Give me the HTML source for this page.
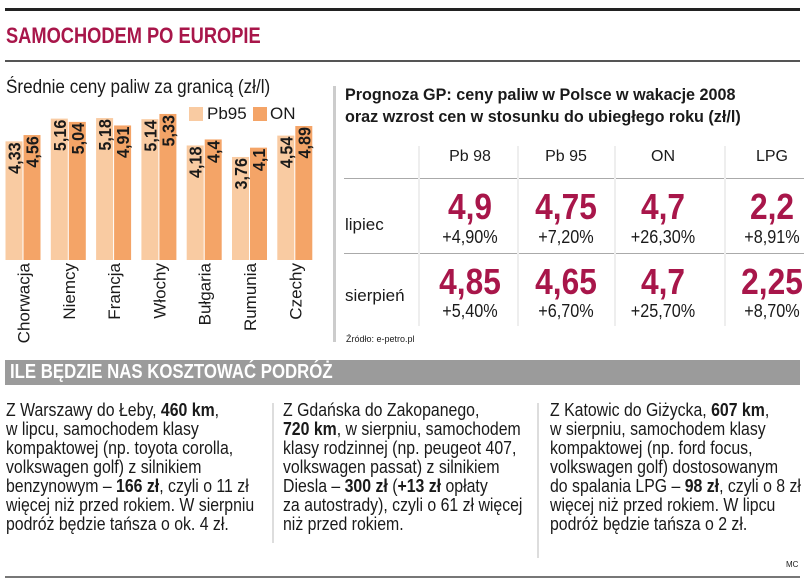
<!DOCTYPE html>
<html><head><meta charset="utf-8">
<style>
body{margin:0;width:805px;height:579px;background:#fff;position:relative;overflow:hidden;font-family:"Liberation Sans Narrow","Liberation Sans",sans-serif;color:#1a1a1a}
.a{position:absolute}
.body{font-size:18px;line-height:19px;white-space:nowrap;transform:scaleX(0.88);transform-origin:left top}
.hd{font-size:16px;text-align:center;width:90px}
.big{font-size:36px;font-weight:bold;color:#a8164a;text-align:center;width:100px;line-height:34px;transform:scaleX(0.88)}
.pct{font-size:18px;text-align:center;width:100px;line-height:18px;transform:scaleX(0.9)}
</style></head><body>
<div class="a" style="left:5px;top:8px;width:795px;height:3px;background:#222"></div>
<div class="a" style="left:6px;top:23px;font-size:22px;font-weight:bold;color:#a8164a;transform:scaleX(0.83);transform-origin:left top;white-space:nowrap">SAMOCHODEM PO EUROPIE</div>
<div class="a" style="left:5px;top:60px;width:795px;height:2px;background:#555"></div>
<div class="a" style="left:6px;top:77px;font-size:19px;transform:scaleX(0.9);transform-origin:left top;white-space:nowrap">Średnie ceny paliw za granicą (zł/l)</div>
<div class="a" style="left:189px;top:107px;width:14px;height:14px;background:#f9cba2"></div>
<div class="a" style="left:207px;top:104px;font-size:17px">Pb95</div>
<div class="a" style="left:253px;top:107px;width:14px;height:14px;background:#f4a467"></div>
<div class="a" style="left:270px;top:104px;font-size:17px">ON</div>
<svg class="a" style="left:0;top:0" width="330" height="350" id="chart"></svg>
<div class="a" style="left:333px;top:86px;width:3px;height:256px;background:#ccc"></div>
<div class="a" style="left:345px;top:84px;font-size:17px;font-weight:bold;line-height:22px;transform:scaleX(0.95);transform-origin:left top;white-space:nowrap">Prognoza GP: ceny paliw w Polsce w wakacje 2008<br>oraz wzrost cen w stosunku do ubiegłego roku (zł/l)</div>
<div id="tbl"></div>
<div class="a" style="left:346px;top:334px;font-size:9px">Źródło: e-petro.pl</div>
<div class="a" style="left:5px;top:360px;width:795px;height:25px;background:#9b9b9b"></div>
<div class="a" style="left:10px;top:361px;font-size:20px;font-weight:bold;color:#fff;transform:scaleX(0.84);transform-origin:left top;white-space:nowrap">ILE BĘDZIE NAS KOSZTOWAĆ PODRÓŻ</div>
<div class="a body" style="left:6px;top:401px">Z Warszawy do Łeby, <b>460 km</b>,<br>w lipcu, samochodem klasy<br>kompaktowej (np. toyota corolla,<br>volkswagen golf) z silnikiem<br>benzynowym – <b>166 zł</b>, czyli o 11 zł<br>więcej niż przed rokiem. W sierpniu<br>podróż będzie tańsza o ok. 4 zł.</div>
<div class="a" style="left:272px;top:403px;width:2px;height:140px;background:#ddd"></div>
<div class="a body" style="left:283px;top:401px">Z Gdańska do Zakopanego,<br><b>720 km</b>, w sierpniu, samochodem<br>klasy rodzinnej (np. peugeot 407,<br>volkswagen passat) z silnikiem<br>Diesla – <b>300 zł</b> (<b>+13 zł</b> opłaty<br>za autostrady), czyli o 61 zł więcej<br>niż przed rokiem.</div>
<div class="a" style="left:537px;top:403px;width:2px;height:155px;background:#ddd"></div>
<div class="a body" style="left:550px;top:401px">Z Katowic do Giżycka, <b>607 km</b>,<br>w sierpniu, samochodem klasy<br>kompaktowej (np. ford focus,<br>volkswagen golf) dostosowanym<br>do spalania LPG – <b>98 zł</b>, czyli o 8 zł<br>więcej niż przed rokiem. W lipcu<br>podróż będzie tańsza o 2 zł.</div>
<div class="a" style="left:786px;top:560px;font-size:8px">MC</div>
<div class="a" style="left:5px;top:576px;width:795px;height:2px;background:#777"></div>
<script>
const countries=["Chorwacja","Niemcy","Francja","Włochy","Bułgaria","Rumunia","Czechy"];
const pb95=[4.33,5.16,5.18,5.14,4.18,3.76,4.54];
const on=[4.56,5.04,4.91,5.33,4.4,4.1,4.89];
const pb95Labels=["4,33","5,16","5,18","5,14","4,18","3,76","4,54"];
const onLabels=["4,56","5,04","4,91","5,33","4,4","4,1","4,89"];
const NS="http://www.w3.org/2000/svg";
const svg=document.getElementById('chart');
const base=260,k=27.4;
const y=v=>base-v*k;
const x=i=>5.5+i*45.3;
function bar(xx,v,lab,col,name){
 const r=document.createElementNS(NS,'rect');
 r.setAttribute('x',xx);r.setAttribute('y',y(v));r.setAttribute('width',17);r.setAttribute('height',base-y(v));r.setAttribute('fill',col);
 
 
 svg.appendChild(r);
 const t=document.createElementNS(NS,'text');
 t.setAttribute('transform',`translate(${xx+15},${y(v)+1}) rotate(-90) scale(0.9,1)`);
 t.setAttribute('text-anchor','end');t.setAttribute('font-size','18');t.setAttribute('font-weight','bold');
 t.setAttribute('font-family','"Liberation Sans Narrow","Liberation Sans",sans-serif');t.setAttribute('fill','#1a1a1a');
 t.textContent=lab;
 
 
 svg.appendChild(t);
}
countries.forEach((c,i)=>{
 bar(x(i),pb95[i],pb95Labels[i],'#f9cba2','bar-pb95-'+i);
 bar(x(i)+18,on[i],onLabels[i],'#f4a467','bar-on-'+i);
 const t=document.createElementNS(NS,'text');
 t.setAttribute('transform',`translate(${x(i)+24},263) rotate(-90)`);
 t.setAttribute('text-anchor','end');t.setAttribute('font-size','17');
 t.setAttribute('font-family','"Liberation Sans Narrow","Liberation Sans",sans-serif');t.setAttribute('fill','#1a1a1a');
 t.textContent=c;
 
 
 svg.appendChild(t);
});
const fuels=["Pb 98","Pb 95","ON","LPG"];
const lipiec=["4,9","4,75","4,7","2,2"];
const lipiecPct=["+4,90%","+7,20%","+26,30%","+8,91%"];
const sierpien=["4,85","4,65","4,7","2,25"];
const sierpienPct=["+5,40%","+6,70%","+25,70%","+8,70%"];
const tbl=document.getElementById('tbl');
const cx=[470,566,663,772];
function add(html,cls,l,t,name){const d=document.createElement('div');d.className='a '+cls;d.style.left=l+'px';d.style.top=t+'px';d.innerHTML=html;
 
 
 tbl.appendChild(d);}
fuels.forEach((f,i)=>{
 add(f,'hd',cx[i]-45,148,'col-header');
 add(lipiec[i],'big',cx[i]-50,190,'value-lipiec');
 add(lipiecPct[i],'pct',cx[i]-50,228,'pct-lipiec');
 add(sierpien[i],'big',cx[i]-50,265,'value-sierpien');
 add(sierpienPct[i],'pct',cx[i]-50,302,'pct-sierpien');
});
add('lipiec','',345,215,'row-lipiec');tbl.lastChild.style.fontSize='17px';
add('sierpień','',345,286,'row-sierpien');tbl.lastChild.style.fontSize='17px';
[178,253].forEach(yy=>{add('','',344,yy,'row-rule');const d=tbl.lastChild;d.style.width='460px';d.style.height='1px';d.style.background='#aaa';});
[418,517,614,724].forEach(xx=>{add('','',xx,146,'col-sep');const d=tbl.lastChild;d.style.width='2px';d.style.height='180px';d.style.background='#eee';});
</script>
</body></html>
